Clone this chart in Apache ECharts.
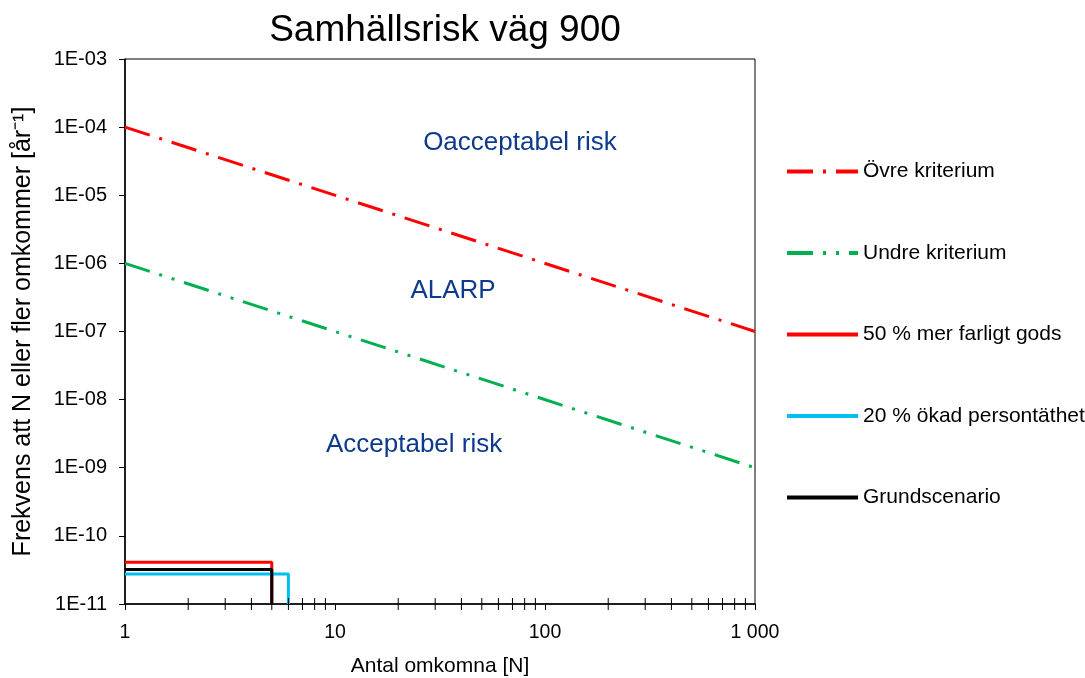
<!DOCTYPE html>
<html><head><meta charset="utf-8">
<script src="https://cdn.jsdelivr.net/npm/echarts@6/dist/echarts.min.js"></script>
<style>html,body{margin:0;padding:0;background:#fff}#c{width:1085px;height:678px}</style>
</head><body><div id="c"></div>
<script>
const titleText = 'Samhällsrisk väg 900';
const xName = 'Antal omkomna [N]';
const yName = 'Frekvens att N eller fler omkommer [år⁻¹]';
const critN = [1, 1000];
const upperCrit = [1e-4, 1e-7];
const lowerCrit = [1e-6, 1e-9];
const stepN50 = [1, 5, 5];
const farligtGods = [4.1e-11, 4.1e-11, 1e-11];
const stepN20 = [1, 6, 6];
const persontathet = [2.75e-11, 2.75e-11, 1e-11];
const stepNGrund = [1, 5, 5];
const grund = [3.2e-11, 3.2e-11, 1e-11];
const minorTicksX = [2,3,4,5,6,7,8,9,20,30,40,50,60,70,80,90,200,300,400,500,600,700,800,900];
const annotations = [
  {name: 'Oacceptabel risk', value: [76, 5.9e-5]},
  {name: 'ALARP', value: [36.5, 4e-7]},
  {name: 'Acceptabel risk', value: [23.8, 2.2e-9]}
];
const zip = (a, b) => a.map((v, i) => [v, b[i]]);
const font = 'Liberation Sans, Arial, sans-serif';

const chart = echarts.init(document.getElementById('c'));
chart.setOption({
  animation: false,
  title: {text: titleText, left: 440, textAlign: 'center', top: 7,
    textStyle: {fontFamily: font, fontSize: 37, fontWeight: 'normal', color: '#000'}},
  grid: {left: 125, right: 330, top: 59, bottom: 74, show: true, borderColor: '#000', borderWidth: 1,
    containLabel: false, outerBoundsMode: 'none'},
  legend: {orient: 'vertical', left: 780, top: 156, itemWidth: 71, itemHeight: 20, itemGap: 60.5,
    itemStyle: {opacity: 0}, lineStyle: {width: 4},
    textStyle: {fontFamily: font, fontSize: 21, lineHeight: 20, color: '#000'},
    data: ['Övre kriterium', 'Undre kriterium', '50 % mer farligt gods', '20 % ökad persontäthet', 'Grundscenario']},
  xAxis: {type: 'log', min: 1, max: 1000, logBase: 10,
    name: xName, nameLocation: 'middle', nameGap: 52,
    nameTextStyle: {fontFamily: font, fontSize: 21, color: '#000'},
    axisLine: {lineStyle: {color: '#000', width: 1.5}},
    axisTick: {show: true, inside: false, length: 6, lineStyle: {color: '#000'}},
    axisLabel: {fontFamily: font, fontSize: 19.5, color: '#000', margin: 19,
      formatter: v => String(Math.round(v)).replace(/\B(?=(\d{3})+(?!\d))/g, ' ')},
    splitLine: {show: false}},
  yAxis: {type: 'log', min: 1e-11, max: 1e-3, logBase: 10,
    name: yName, nameLocation: 'middle', nameGap: 89,
    nameTextStyle: {fontFamily: font, fontSize: 25, color: '#000'},
    axisLine: {lineStyle: {color: '#000', width: 1.5}},
    axisTick: {show: true, length: 6, lineStyle: {color: '#000'}},
    axisLabel: {fontFamily: font, fontSize: 20, color: '#000', margin: 18,
      formatter: v => { const e = Math.round(Math.log10(v)); const a = Math.abs(e); return '1E' + (e < 0 ? '-' : '+') + (a < 10 ? '0' + a : a); }},
    splitLine: {show: false}},
  series: [
    {name: 'Övre kriterium', type: 'line', data: zip(critN, upperCrit), symbol: 'none',
      lineStyle: {color: '#FF0000', width: 3, type: [26, 10, 3, 10]}, itemStyle: {color: '#FF0000'}},
    {name: 'Undre kriterium', type: 'line', data: zip(critN, lowerCrit), symbol: 'none',
      lineStyle: {color: '#00B050', width: 3, type: [26, 10, 3, 10, 3, 10]}, itemStyle: {color: '#00B050'}},
    {name: '50 % mer farligt gods', type: 'line', data: zip(stepN50, farligtGods), symbol: 'none',
      lineStyle: {color: '#FF0000', width: 3}, itemStyle: {color: '#FF0000'}},
    {name: '20 % ökad persontäthet', type: 'line', data: zip(stepN20, persontathet), symbol: 'none',
      lineStyle: {color: '#00C0F0', width: 3}, itemStyle: {color: '#00C0F0'}},
    {name: 'Grundscenario', type: 'line', data: zip(stepNGrund, grund), symbol: 'none',
      lineStyle: {color: '#000000', width: 3}, itemStyle: {color: '#000000'}},
    {type: 'custom', silent: true, data: minorTicksX.map(v => [v, 1e-11]),
      renderItem: (params, api) => {
        const p = api.coord([api.value(0), api.value(1)]);
        return {type: 'line', shape: {x1: p[0], y1: p[1] - 6, x2: p[0], y2: p[1] + 6},
          style: {stroke: '#000', lineWidth: 1}};
      }, z: 5},
    {type: 'scatter', silent: true, symbolSize: 0, data: annotations,
      itemStyle: {opacity: 1},
      label: {show: true, position: 'inside', formatter: p => p.name, opacity: 1,
        fontFamily: font, fontSize: 26, color: '#0E3A8E'}}
  ]
});
</script></body></html>
